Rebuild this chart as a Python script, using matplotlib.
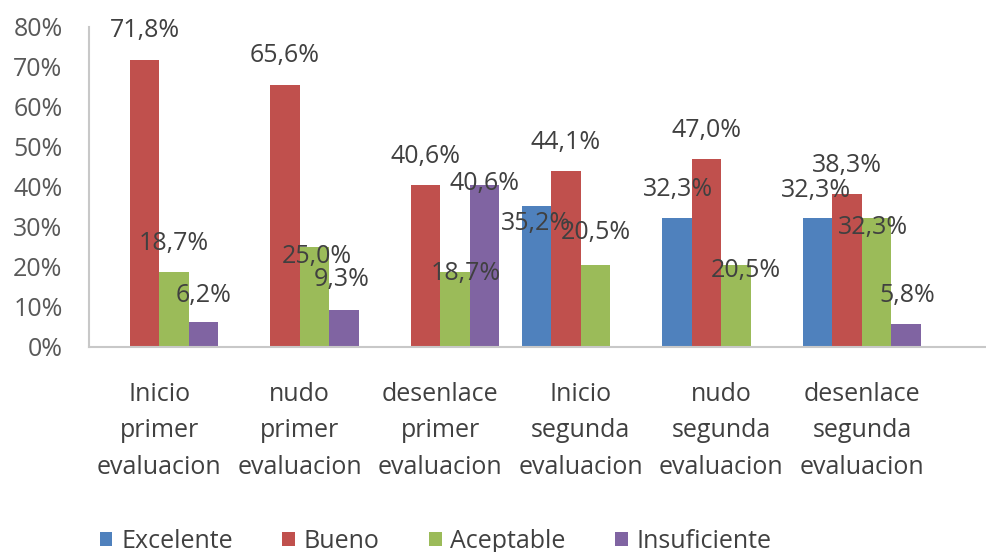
"""Grouped bar chart: evaluation levels per story part (primer / segunda evaluacion)."""
import numpy as np
import matplotlib
matplotlib.use("Agg")
import matplotlib.pyplot as plt
from matplotlib.patches import Patch

categories = [
    "Inicio\nprimer\nevaluacion",
    "nudo\nprimer\nevaluacion",
    "desenlace\nprimer\nevaluacion",
    "Inicio\nsegunda\nevaluacion",
    "nudo\nsegunda\nevaluacion",
    "desenlace\nsegunda\nevaluacion",
]
series_names = ["Excelente", "Bueno", "Aceptable", "Insuficiente"]
excelente = [None, None, None, 35.2, 32.3, 32.3]
bueno = [71.8, 65.6, 40.6, 44.1, 47.0, 38.3]
aceptable = [18.7, 25.0, 18.7, 20.5, 20.5, 32.3]
insuficiente = [6.2, 9.3, 40.6, None, None, 5.8]
yticks = [0, 10, 20, 30, 40, 50, 60, 70, 80]

colors = ["#4F81BD", "#C0504D", "#9BBB59", "#8064A2"]

# label offsets (pixels, y up) from bar top centre, as moved by hand in the original
label_offsets = [
    [None, None, None, (-1, -17), (1, 28), (-2, 27)],
    [(0, 29), (0, 29), (0, 28), (-1, 28), (0, 29), (0, 28)],
    [(0, 29), (2, -10), (11, -1), (0, 32), (10, -5), (-4, -10)],
    [(0, 27), (-2, 30), (0, 1), None, None, (1, 28)],
]

plt.rcParams["font.family"] = ["Open Sans", "DejaVu Sans"]
FS = 18

fig = plt.figure(figsize=(9.87, 5.52), dpi=100)
ax = fig.add_axes([89 / 987, 1 - 347 / 552, 1 - 89 / 987, (347 - 27) / 552])

x = np.arange(len(categories))
w = 0.21
data = [excelente, bueno, aceptable, insuficiente]
for j, (vals, col) in enumerate(zip(data, colors)):
    pos = x + (j - 1.5) * w
    h = [v if v is not None else 0 for v in vals]
    ax.bar(pos, h, w, color=col, edgecolor="none")
    for i, v in enumerate(vals):
        if v is None:
            continue
        dx, dy = label_offsets[j][i]
        ax.annotate(f"{v:.1f}%".replace(".", ","), (pos[i], v),
                    xytext=(dx, dy), textcoords="offset pixels",
                    ha="center", va="center", fontsize=FS, color="#404040")

ax.set_xlim(-0.5, 5.89)
ax.set_ylim(0, 80)
ax.set_yticks(yticks)
ax.set_yticklabels([f"{t}%" for t in yticks])
ax.set_xticks(x)
ax.set_xticklabels(categories, linespacing=1.6)
ax.tick_params(axis="y", length=0, pad=19, labelsize=FS, labelcolor="#595959")
ax.tick_params(axis="x", length=0, pad=25, labelsize=FS, labelcolor="#404040")
for s in ["top", "right"]:
    ax.spines[s].set_visible(False)
for s in ["left", "bottom"]:
    ax.spines[s].set_color("#C8C8C8")
    ax.spines[s].set_linewidth(1.5)

handles = [Patch(facecolor=c, edgecolor="none") for c in colors]
fig.legend(handles, series_names, loc="center left", bbox_to_anchor=(100 / 987, 1 - 541 / 552),
           ncol=4, frameon=False, fontsize=FS, handlelength=0.5, handleheight=0.5,
           handletextpad=0.35, columnspacing=1.98, borderpad=0, borderaxespad=0,
           labelcolor="#404040")

fig.savefig("out.png", dpi=100)
